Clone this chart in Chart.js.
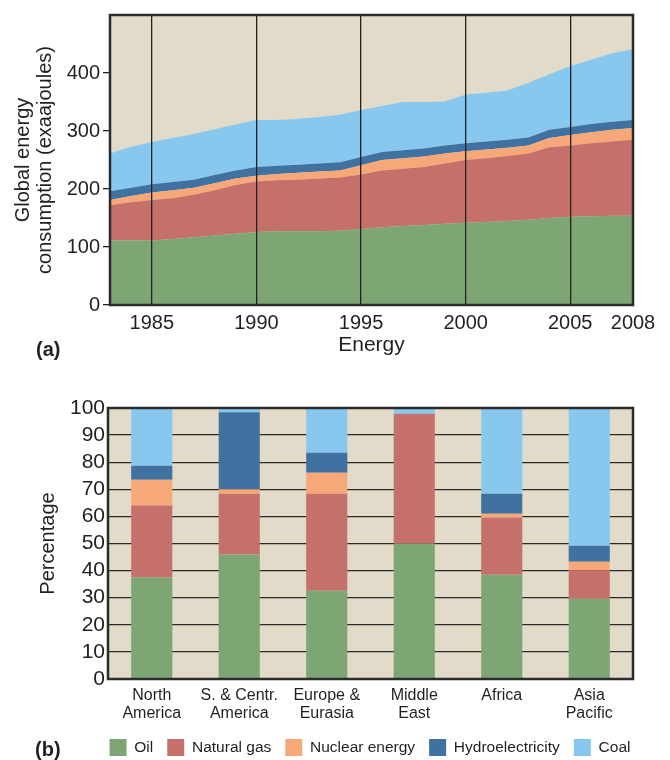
<!DOCTYPE html>
<html>
<head>
<meta charset="utf-8">
<script src="https://cdn.jsdelivr.net/npm/chart.js@4.4.1/dist/chart.umd.min.js"></script>
<style>
  body { margin: 0; width: 670px; height: 760px; overflow: hidden; background: #fff; position: relative; font-family: Arial, "Liberation Sans", sans-serif; }
  canvas { position: absolute; left: 0; }
  .tag { position: absolute; font: bold 20px Arial, "Liberation Sans", sans-serif; line-height: 20px; color: #231f20; }
</style>
</head>
<body>
<canvas id="areaChart" width="670" height="370" style="top:0"></canvas>
<canvas id="barChart" width="670" height="380" style="top:390px"></canvas>
<div class="tag" style="left:36px;top:339px">(a)</div>
<div class="tag" style="left:35px;top:739px">(b)</div>
<script>
// (a) global consumption, exajoules per year
const years = [1983, 1984, 1985, 1986, 1987, 1988, 1989, 1990, 1991, 1992, 1993, 1994, 1995,
               1996, 1997, 1998, 1999, 2000, 2001, 2002, 2003, 2004, 2005, 2006, 2007, 2008];
const oil = [111, 111, 111, 114, 117, 120, 123, 126, 127, 127, 127, 128, 131,
             134, 136, 138, 140, 142, 143, 145, 147, 150, 152, 153, 154, 154];
const naturalGas = [61, 66, 70, 70, 73, 78, 84, 87, 88, 89, 91, 92, 94,
                    98, 99, 100, 104, 108, 110, 112, 114, 122, 123, 126, 128, 131];
const nuclear = [9, 11, 13, 14, 12, 12, 11, 10, 11, 12, 12, 12, 16,
                 18, 18, 18, 17, 15, 15, 14, 14, 16, 18, 19, 20, 20];
const hydro = [15, 14, 14, 14, 14, 14, 14, 15, 14, 14, 14, 14, 14,
               14, 14, 14, 14, 14, 14, 14, 14, 14, 14, 14, 14, 14];
const coal = [65, 71, 73, 76, 79, 79, 79, 81, 79, 79, 80, 82, 81,
              79, 83, 80, 76, 84, 84, 85, 94, 96, 105, 111, 118, 122];
const yearTicks = [1985, 1990, 1995, 2000, 2005, 2008];
const energyTicks = [0, 100, 200, 300, 400];

// (b) share by region, percent
const regions = [["North", "America"], ["S. & Centr.", "America"], ["Europe &", "Eurasia"],
                 ["Middle", "East"], ["Africa"], ["Asia", "Pacific"]];
const oilShare = [37.5, 45.9, 32.6, 49.9, 38.5, 29.6];
const gasShare = [26.5, 22.5, 35.8, 48.0, 21.0, 10.4];
const nuclearShare = [9.5, 1.6, 7.7, 0, 1.5, 3.3];
const hydroShare = [5.2, 28.4, 7.4, 0, 7.4, 5.9];
const coalShare = [21.3, 1.6, 16.5, 2.1, 31.6, 50.8];

const names = ["Oil", "Natural gas", "Nuclear energy", "Hydroelectricity", "Coal"];
const colors = ["#7ea574", "#c5706b", "#f6a879", "#3f72a0", "#88c8ef"];
const ink = "#231f20";
const font = "Arial, 'Liberation Sans', sans-serif";

const framePlugin = {
    id: "frame",
    beforeDraw(chart) {
        const { ctx, chartArea: a } = chart;
        ctx.save();
        ctx.fillStyle = "#e2dbc9";
        ctx.fillRect(a.left, a.top, a.right - a.left, a.bottom - a.top);
        ctx.restore();
    },
    afterDraw(chart) {
        const { ctx, chartArea: a } = chart;
        ctx.save();
        ctx.strokeStyle = "#2b2b2b";
        ctx.lineWidth = 2.5;
        ctx.strokeRect(a.left, a.top, a.right - a.left, a.bottom - a.top);
        ctx.restore();
    }
};

function points(values) {
    return values.map((v, i) => ({ x: years[i], y: v }));
}

const areaSeries = [oil, naturalGas, nuclear, hydro, coal];

new Chart(document.getElementById("areaChart"), {
    type: "line",
    data: {
        datasets: areaSeries.map((s, i) => ({
            label: names[i],
            data: points(s),
            backgroundColor: colors[i],
            borderWidth: 0,
            pointRadius: 0,
            tension: 0,
            fill: i === 0 ? "origin" : "-1"
        }))
    },
    options: {
        responsive: false,
        animation: false,
        layout: { padding: { top: 10, right: 37, bottom: 0, left: 0 } },
        plugins: { legend: { display: false }, tooltip: { enabled: false } },
        scales: {
            x: {
                type: "linear",
                min: 1983,
                max: 2008,
                afterBuildTicks: s => { s.ticks = yearTicks.map(v => ({ value: v })); },
                afterFit: s => { s.height = 65; },
                ticks: { autoSkip: false, maxRotation: 0, padding: 6, color: ink,
                         font: { family: font, size: 20 }, callback: v => String(v) },
                // vertical year lines sit on top of the areas
                grid: { color: "#222", lineWidth: 1.3, drawTicks: false, z: 1 },
                border: { display: false },
                title: { display: true, text: "Energy", color: ink,
                         font: { family: font, size: 21, lineHeight: 1.15 }, padding: { top: 0, bottom: 13 } }
            },
            y: {
                stacked: true,
                min: 0,
                max: 500,
                afterBuildTicks: s => { s.ticks = energyTicks.map(v => ({ value: v })); },
                afterFit: s => { s.width = 110; },
                ticks: { padding: 3, color: ink, font: { family: font, size: 20 } },
                grid: { drawOnChartArea: false, drawTicks: true, tickLength: 7, color: "#222", lineWidth: 1.3 },
                border: { display: false },
                title: { display: true, text: ["Global energy", "consumption (exaajoules)"], color: ink,
                         font: { family: font, size: 20, lineHeight: 1.1 }, padding: { top: 12, bottom: 0 } }
            }
        }
    },
    plugins: [framePlugin]
});

const shareSeries = [oilShare, gasShare, nuclearShare, hydroShare, coalShare];

// left padding 70 + empty right axis 37 keeps the legend centred under the plot with room for one row
new Chart(document.getElementById("barChart"), {
    type: "bar",
    data: {
        labels: regions,
        datasets: shareSeries.map((s, i) => ({
            label: names[i],
            data: s,
            backgroundColor: colors[i],
            borderWidth: 0,
            barPercentage: 1,
            categoryPercentage: 0.47
        }))
    },
    options: {
        responsive: false,
        animation: false,
        layout: { padding: { top: 18, right: 0, bottom: 4, left: 70 } },
        plugins: {
            tooltip: { enabled: false },
            legend: {
                position: "bottom",
                labels: { boxWidth: 17, boxHeight: 17, padding: 14, color: ink,
                          font: { family: font, size: 15.5 } }
            }
        },
        scales: {
            x: {
                stacked: true,
                afterFit: s => { s.height = 46; },
                ticks: { autoSkip: false, maxRotation: 0, padding: 8, color: ink,
                         font: { family: font, size: 16, lineHeight: 1.125 } },
                grid: { display: false, drawTicks: false },
                border: { display: false }
            },
            y: {
                stacked: true,
                min: 0,
                max: 100,
                afterFit: s => { s.width = 38; },
                ticks: { stepSize: 10, autoSkip: false, padding: 3, color: ink, font: { family: font, size: 21 } },
                grid: { color: "#2a2a2a", lineWidth: 1.3, drawTicks: false },
                border: { display: false },
                title: { display: true, text: "Percentage", color: ink,
                         font: { family: font, size: 20 }, padding: { top: -34, bottom: 0 } }
            },
            pad: {
                position: "right",
                afterFit: s => { s.width = 37; },
                ticks: { display: false },
                grid: { display: false },
                border: { display: false }
            }
        }
    },
    plugins: [framePlugin]
});
</script>
</body>
</html>
